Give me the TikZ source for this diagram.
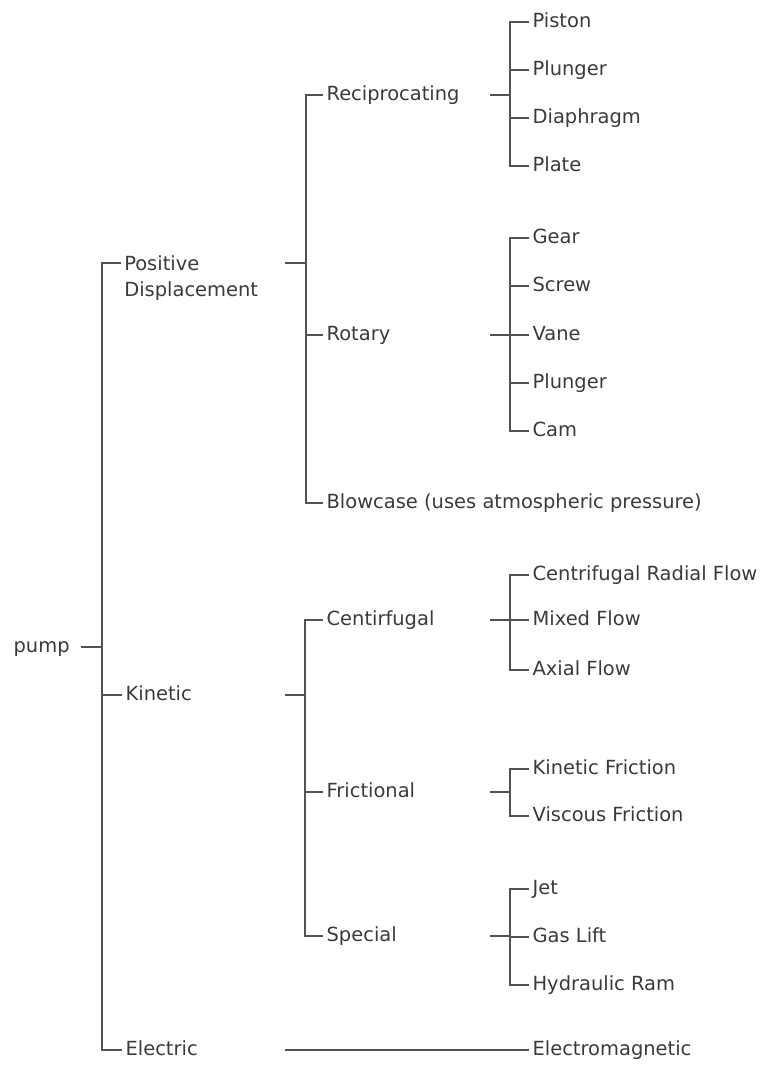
\documentclass[tikz,border=0pt]{standalone}
\usepackage{fontspec}
\setmainfont{DejaVu Sans}
\usetikzlibrary{positioning}
\definecolor{treeline}{HTML}{525252}
\definecolor{treetext}{HTML}{3A3A3A}

\begin{document}
\begin{tikzpicture}[x=0.75pt, y=-0.75pt, font=\fontsize{14.6}{20}\selectfont,
    branch/.style={draw=treeline, line width=1.4pt},
    item/.style={anchor=west, inner xsep=2.5pt, inner ysep=0pt, text height=1.45ex, text depth=0pt, text=treetext},
    twoline/.style={anchor=north west, align=left, inner sep=0pt, text=treetext}]

    \useasboundingbox (0,0) rectangle (762,1065);

    % -------------------------------------------------------------
    % ROOT AND FIRST LEVEL
    % -------------------------------------------------------------
    \node[item] (pump) at (10,647) {pump};
    \coordinate (pump-out) at (81,647);
    \coordinate (main-bus) at (102,647);
    \draw[branch] (pump-out) -- (main-bus);

    \node[twoline] (posdisp) at (124,255) {Positive\\Displacement};
    \coordinate (pd-tick) at (121,263);
    \node[item] (kinetic) at (122,695) {Kinetic};
    \node[item] (electric) at (122,1050) {Electric};

    \draw[branch] (pd-tick) -| (main-bus);
    \draw[branch] (kinetic.west) -| (main-bus);
    \draw[branch] (electric.west) -| (main-bus);

    % -------------------------------------------------------------
    % POSITIVE DISPLACEMENT
    % -------------------------------------------------------------
    \coordinate (pd-out) at (285,263);
    \coordinate (pd-bus) at (306,263);
    \draw[branch] (pd-out) -- (pd-bus);

    \node[item] (recip) at (323,95) {Reciprocating};
    \node[item] (rotary) at (323,335) {Rotary};
    \node[item] (blowcase) at (323,503) {Blowcase (uses atmospheric pressure)};
    \foreach \nm in {recip, rotary, blowcase}
        \draw[branch] (\nm.west) -| (pd-bus);

    % Reciprocating
    \coordinate (rec-out) at (490,95);
    \coordinate (rec-bus) at (510,95);
    \draw[branch] (rec-out) -- (rec-bus);
    \foreach \nm/\yy/\txt in {piston/22/Piston, plungerA/70/Plunger, diaphragm/118/Diaphragm, plate/166/Plate} {
        \node[item] (\nm) at (529,\yy) {\txt};
        \draw[branch] (\nm.west) -| (rec-bus);
    }

    % Rotary
    \coordinate (rot-out) at (490,335);
    \coordinate (rot-bus) at (510,335);
    \draw[branch] (rot-out) -- (rot-bus);
    \foreach \nm/\yy/\txt in {gear/238/Gear, screw/286/Screw, vane/335/Vane, plungerB/383/Plunger, cam/431/Cam} {
        \node[item] (\nm) at (529,\yy) {\txt};
        \draw[branch] (\nm.west) -| (rot-bus);
    }

    % -------------------------------------------------------------
    % KINETIC
    % -------------------------------------------------------------
    \coordinate (kin-out) at (285,695);
    \coordinate (kin-bus) at (305,695);
    \draw[branch] (kin-out) -- (kin-bus);

    \node[item] (centrif) at (323,620) {Centirfugal};
    \node[item] (friction) at (323,792) {Frictional};
    \node[item] (special) at (323,936) {Special};
    \foreach \nm in {centrif, friction, special}
        \draw[branch] (\nm.west) -| (kin-bus);

    % Centirfugal
    \coordinate (cen-out) at (490,620);
    \coordinate (cen-bus) at (510,620);
    \draw[branch] (cen-out) -- (cen-bus);
    \foreach \nm/\yy/\txt in {radial/575/Centrifugal Radial Flow, mixed/620/Mixed Flow, axial/670/Axial Flow} {
        \node[item] (\nm) at (529,\yy) {\txt};
        \draw[branch] (\nm.west) -| (cen-bus);
    }

    % Frictional
    \coordinate (fri-out) at (490,792);
    \coordinate (fri-bus) at (510,792);
    \draw[branch] (fri-out) -- (fri-bus);
    \foreach \nm/\yy/\txt in {kinfric/769/Kinetic Friction, viscfric/816/Viscous Friction} {
        \node[item] (\nm) at (529,\yy) {\txt};
        \draw[branch] (\nm.west) -| (fri-bus);
    }

    % Special
    \coordinate (spe-out) at (490,936);
    \coordinate (spe-bus) at (510,936);
    \draw[branch] (spe-out) -- (spe-bus);
    \foreach \nm/\yy/\txt in {jet/889/Jet, gaslift/937/Gas Lift, hydram/985/Hydraulic Ram} {
        \node[item] (\nm) at (529,\yy) {\txt};
        \draw[branch] (\nm.west) -| (spe-bus);
    }

    % -------------------------------------------------------------
    % ELECTRIC
    % -------------------------------------------------------------
    \coordinate (elec-out) at (285,1050);
    \node[item] (electromag) at (529,1050) {Electromagnetic};
    \draw[branch] (elec-out) -- (electromag.west);

\end{tikzpicture}
\end{document}
